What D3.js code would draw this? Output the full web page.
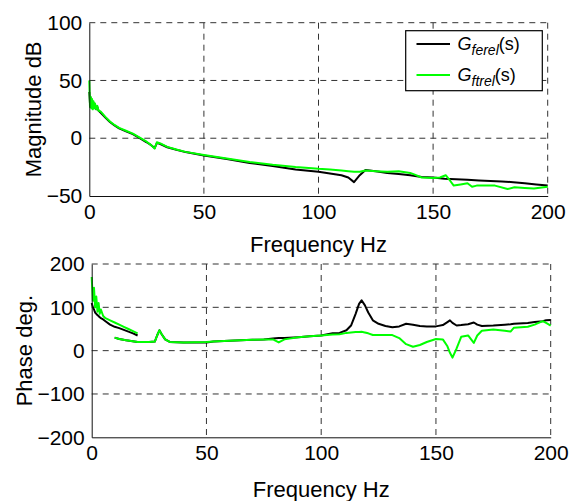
<!DOCTYPE html>
<html>
<head>
<meta charset="utf-8">
<script src="https://cdn.jsdelivr.net/npm/d3@7"></script>
<style>
  body { margin: 0; background: #fff; }
  text { font-family: "Liberation Sans", Arial, sans-serif; fill: #000; }
</style>
</head>
<body>
<div id="chart"></div>
<script>
// magnitude, dB
const magFreqFerel = [0, 0.3, 0.6, 0.9, 1.2, 1.5, 1.8, 2.1, 2.5, 3, 3.5, 4, 5, 7, 9, 11, 13, 16, 19, 22, 25, 27, 28.5, 29.5, 31, 34, 38, 42, 50, 60, 70, 80, 90, 100, 105, 110, 113, 115.5, 118, 120.5, 125, 130, 135, 140, 145, 150, 155, 160, 165, 170, 175, 180, 185, 190, 195, 200];
const magFerel = [40, 30, 35, 28, 33, 27, 31, 26, 29, 25, 27, 24, 22, 18, 14, 11, 8.5, 6, 3.5, 0, -3.5, -6, -8.5, -4, -5, -7.8, -10, -12, -15, -18, -21.5, -24, -27, -29, -30.5, -32, -34, -38, -32, -27.5, -28.5, -30, -31, -32, -33.5, -34, -35, -35.5, -36, -36.5, -37, -37.5, -38, -39, -40, -41];
const magFreqFtrel = [0, 0.3, 0.6, 0.9, 1.2, 1.5, 1.8, 2.1, 2.5, 3, 3.5, 4, 5, 7, 9, 11, 13, 16, 19, 22, 25, 27, 28.5, 29.5, 31, 34, 38, 42, 50, 60, 70, 80, 90, 100, 105, 110, 113, 115.5, 118, 120.5, 125, 130, 135, 140, 142, 145, 150, 153, 155.5, 157.5, 159, 162, 165, 167, 169, 177, 182.5, 185.5, 190, 194, 200];
const magFtrel = [50, 27, 36, 26, 34, 25, 32, 26, 30, 25, 28, 24, 23, 18.5, 14.5, 11.5, 9, 6.5, 4, 0.5, -3, -6, -9, -3.5, -4.5, -7.5, -9.8, -11.8, -14.5, -17.5, -20.5, -23, -25, -26.5, -27, -28, -28.5, -29, -29, -28, -28.5, -29, -28.5, -30, -31.5, -34, -34.5, -34, -32, -37, -41, -40, -39, -42, -41, -41, -44, -42.5, -43, -43.5, -42];

// phase, deg. (two frequency segments)
const phaseLowFreq = [0, 0.5, 1, 1.5, 2, 2.5, 3, 3.5, 4, 5, 6, 8, 10, 12, 14, 16, 18, 20];
const phaseLowFerel = [110, 100, 95, 88, 85, 82, 80, 77, 75, 72, 68, 60, 55, 52, 48, 44, 40, 35];
const phaseLowFtrel = [170, 115, 145, 100, 125, 90, 110, 85, 95, 80, 75, 70, 65, 60, 55, 50, 45, 40];
const phaseHighFreq = [10, 12, 15, 20, 25, 27.5, 28.5, 29.5, 30.5, 32, 34, 40, 50, 53, 60, 65, 70, 75, 79, 81.5, 84, 90, 95, 100, 105, 108, 111, 113, 115, 116.5, 117.6, 119, 120.5, 122.5, 125, 128, 131, 134, 137, 140, 143, 146, 150, 153, 155, 156.1, 157.2, 159, 161, 164, 166.5, 168, 170, 175, 180, 182.5, 184, 190, 193, 196.5, 198, 200];
const phaseHighFerel = [30, 27, 24, 20, 20, 21, 35, 47, 38, 26, 20, 19, 19, 21, 23, 24, 25, 26, 28, 29, 29, 31, 33, 35, 40, 41, 47, 58, 85, 108, 116, 105, 88, 70, 62, 57, 54, 56, 62, 60, 57, 56, 56, 59, 66, 70, 64, 58, 59, 61, 65, 60, 57, 58, 60, 61, 62, 64, 66, 68, 70, 71];
const phaseHighFtrel = [30, 27, 24, 20, 20, 21, 35, 47, 38, 26, 20, 19, 20, 21, 23, 24, 25, 26, 26, 19, 26, 31, 33, 35, 37, 38, 41, 42, 43, 43, 43.5, 42, 40, 36, 36, 36, 36, 29, 15, 9, 13, 20, 27, 26, 10, -5, -16, 5, 32, 35, 18, 35, 46, 49, 46, 44, 53, 55, 60, 68, 64, 58];

const xTicks = [0, 50, 100, 150, 200];
const magTicks = [-50, 0, 50, 100];
const phaseTicks = [-200, -100, 0, 100, 200];

const colorFerel = "#000000";
const colorFtrel = "#00ff00";

const width = 575, height = 501;
const svg = d3.select("#chart").append("svg")
    .attr("width", width)
    .attr("height", height);

const fmt = d => d < 0 ? "\u2212" + Math.abs(d) : String(d);

function drawPanel(opts) {
  const x = d3.scaleLinear().domain([0, 200]).range([opts.left, opts.right]);
  const y = d3.scaleLinear().domain(opts.yDomain).range([opts.bottom, opts.top]);
  const g = svg.append("g");

  // dashed grid
  g.selectAll("line.gx")
    .data(xTicks.filter(d => d > 0))
    .enter().append("line")
      .attr("x1", d => x(d)).attr("x2", d => x(d))
      .attr("y1", opts.top).attr("y2", opts.bottom)
      .attr("stroke", "#333").attr("stroke-dasharray", "6,5");
  g.selectAll("line.gy")
    .data(opts.yTicks.filter(d => d > opts.yDomain[0]))
    .enter().append("line")
      .attr("x1", opts.left).attr("x2", opts.right)
      .attr("y1", d => y(d)).attr("y2", d => y(d))
      .attr("stroke", "#333").attr("stroke-dasharray", "6,5");

  // lines
  const line = d3.line().x(d => x(d[0])).y(d => y(d[1]));
  opts.series.forEach(s => {
    g.append("path")
      .datum(s.freq.map((f, i) => [f, s.vals[i]]))
      .attr("d", line)
      .attr("fill", "none")
      .attr("stroke", s.color)
      .attr("stroke-width", 2)
      .attr("stroke-linejoin", "round");
  });

  // axes (left and bottom only)
  const xAxis = g.append("g")
      .attr("transform", `translate(0,${opts.bottom})`)
      .call(d3.axisBottom(x).tickValues(xTicks).tickSize(0).tickPadding(8));
  const yAxis = g.append("g")
      .attr("transform", `translate(${opts.left},0)`)
      .call(d3.axisLeft(y).tickValues(opts.yTicks).tickFormat(fmt).tickSize(0).tickPadding(7));
  [xAxis, yAxis].forEach(a => {
    a.select(".domain").attr("stroke", "#111");
    a.selectAll("text").style("font-size", "21px").attr("fill", "#000");
  });
  xAxis.selectAll("text").attr("dy", "0.71em");

  g.append("text")
    .attr("x", (opts.left + opts.right) / 2)
    .attr("y", opts.xLabelY)
    .attr("text-anchor", "middle")
    .style("font-size", "22px")
    .text("Frequency Hz");
  g.append("text")
    .attr("transform", `translate(${opts.yLabelX},${(opts.top + opts.bottom) / 2}) rotate(-90)`)
    .attr("text-anchor", "middle")
    .style("font-size", "22px")
    .text(opts.yLabel);
}

drawPanel({
  left: 89.3, right: 547.7, top: 22.7, bottom: 196,
  yDomain: [-50, 100], yTicks: magTicks,
  xLabelY: 251.5, yLabelX: 40.5, yLabel: "Magnitude dB",
  series: [
    {freq: magFreqFerel, vals: magFerel, color: colorFerel},
    {freq: magFreqFtrel, vals: magFtrel, color: colorFtrel}
  ]
});

drawPanel({
  left: 91.7, right: 550.7, top: 264, bottom: 437.3,
  yDomain: [-200, 200], yTicks: phaseTicks,
  xLabelY: 496.5, yLabelX: 31.5, yLabel: "Phase deg.",
  series: [
    {freq: phaseLowFreq, vals: phaseLowFerel, color: colorFerel},
    {freq: phaseLowFreq, vals: phaseLowFtrel, color: colorFtrel},
    {freq: phaseHighFreq, vals: phaseHighFerel, color: colorFerel},
    {freq: phaseHighFreq, vals: phaseHighFtrel, color: colorFtrel}
  ]
});

// legend
const legendNames = ["ferel", "ftrel"];
const legendColors = [colorFerel, colorFtrel];
const legend = svg.append("g");
legend.append("rect")
  .attr("x", 405.7).attr("y", 30.7)
  .attr("width", 136.6).attr("height", 60)
  .attr("fill", "#fff").attr("stroke", "#000").attr("stroke-width", 1.2);
legendNames.forEach((name, i) => {
  const cy = 44 + i * 31;
  legend.append("line")
    .attr("x1", 416.5).attr("x2", 450)
    .attr("y1", cy).attr("y2", cy)
    .attr("stroke", legendColors[i]).attr("stroke-width", 2);
  const t = legend.append("text")
    .attr("x", 457.5).attr("y", cy + 6)
    .style("font-size", "18px");
  t.append("tspan").style("font-style", "italic").text("G");
  t.append("tspan").style("font-style", "italic").style("font-size", "14px")
    .attr("dy", 5).text(name);
  t.append("tspan").attr("dy", -5).text("(s)");
});
</script>
</body>
</html>
